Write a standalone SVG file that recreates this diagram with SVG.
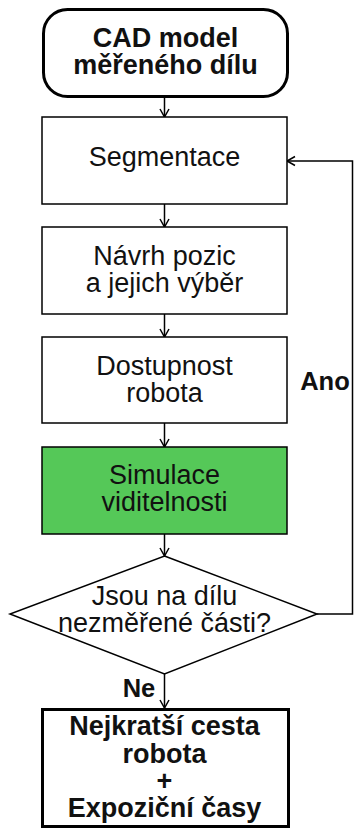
<svg xmlns="http://www.w3.org/2000/svg" width="354" height="829" viewBox="0 0 354 829">
<defs>
<marker id="ah" markerWidth="12" markerHeight="12" refX="10" refY="6" orient="auto" markerUnits="userSpaceOnUse">
<path d="M2,1.5 L10,6 L2,10.5" fill="none" stroke="#000" stroke-width="1.5"/>
</marker>
<style>
.box{fill:#fff;stroke:#000;stroke-width:1.5}
.thick{fill:#fff;stroke:#000;stroke-width:3}
.t{font-family:"Liberation Sans",Arial,sans-serif;font-size:27px;text-anchor:middle;fill:#111}
.b{font-weight:bold}
.c{fill:none;stroke:#000;stroke-width:1.5}
</style>
</defs>
<rect width="354" height="829" fill="#fff"/>
<g id="connectors">
<line class="c" x1="164.5" y1="97" x2="164.5" y2="117" marker-end="url(#ah)"/>
<line class="c" x1="164.5" y1="204" x2="164.5" y2="227" marker-end="url(#ah)"/>
<line class="c" x1="164.5" y1="314" x2="164.5" y2="337" marker-end="url(#ah)"/>
<line class="c" x1="164.5" y1="423" x2="164.5" y2="447" marker-end="url(#ah)"/>
<line class="c" x1="164.5" y1="534" x2="164.5" y2="556" marker-end="url(#ah)"/>
<polyline class="c" points="317,614 352.5,614 352.5,161 287,161" marker-end="url(#ah)"/>
<line class="c" x1="164.5" y1="674" x2="164.5" y2="708" marker-end="url(#ah)"/>
<text class="t b" x="325" y="390" style="font-size:25.5px">Ano</text>
<text class="t b" x="139" y="697" style="font-size:25.5px">Ne</text>
</g>
<g id="start">
<rect x="43.5" y="9.5" width="244" height="87" rx="24" ry="24" class="thick"/>
<text class="t b" x="165.5" y="47">CAD model</text>
<text class="t b" x="165.5" y="74">měřeného dílu</text>
</g>
<g id="segmentace">
<rect x="42" y="117" width="245" height="87" class="box"/>
<text class="t" x="164.5" y="166">Segmentace</text>
</g>
<g id="navrh">
<rect x="42" y="227" width="245" height="87" class="box"/>
<text class="t" x="164.5" y="265">Návrh pozic</text>
<text class="t" x="164.5" y="292">a jejich výběr</text>
</g>
<g id="dostupnost">
<rect x="42" y="337" width="245" height="86" class="box"/>
<text class="t" x="164.5" y="375">Dostupnost</text>
<text class="t" x="164.5" y="402">robota</text>
</g>
<g id="simulace">
<rect x="42" y="447" width="245" height="87" class="box" style="fill:#55c858"/>
<text class="t" x="164.5" y="484">Simulace</text>
<text class="t" x="164.5" y="511">viditelnosti</text>
</g>
<g id="decision">
<polygon points="164.5,556 317,614 164.5,674 10,614" class="box"/>
<text class="t" x="164.5" y="605">Jsou na dílu</text>
<text class="t" x="164.5" y="632">nezměřené části?</text>
</g>
<g id="end">
<rect x="42.5" y="709.5" width="246" height="117" class="thick"/>
<text class="t b" x="164.5" y="735">Nejkratší cesta</text>
<text class="t b" x="164.5" y="763">robota</text>
<text class="t b" x="164.5" y="790">+</text>
<text class="t b" x="164.5" y="817">Expoziční časy</text>
</g>
</svg>
